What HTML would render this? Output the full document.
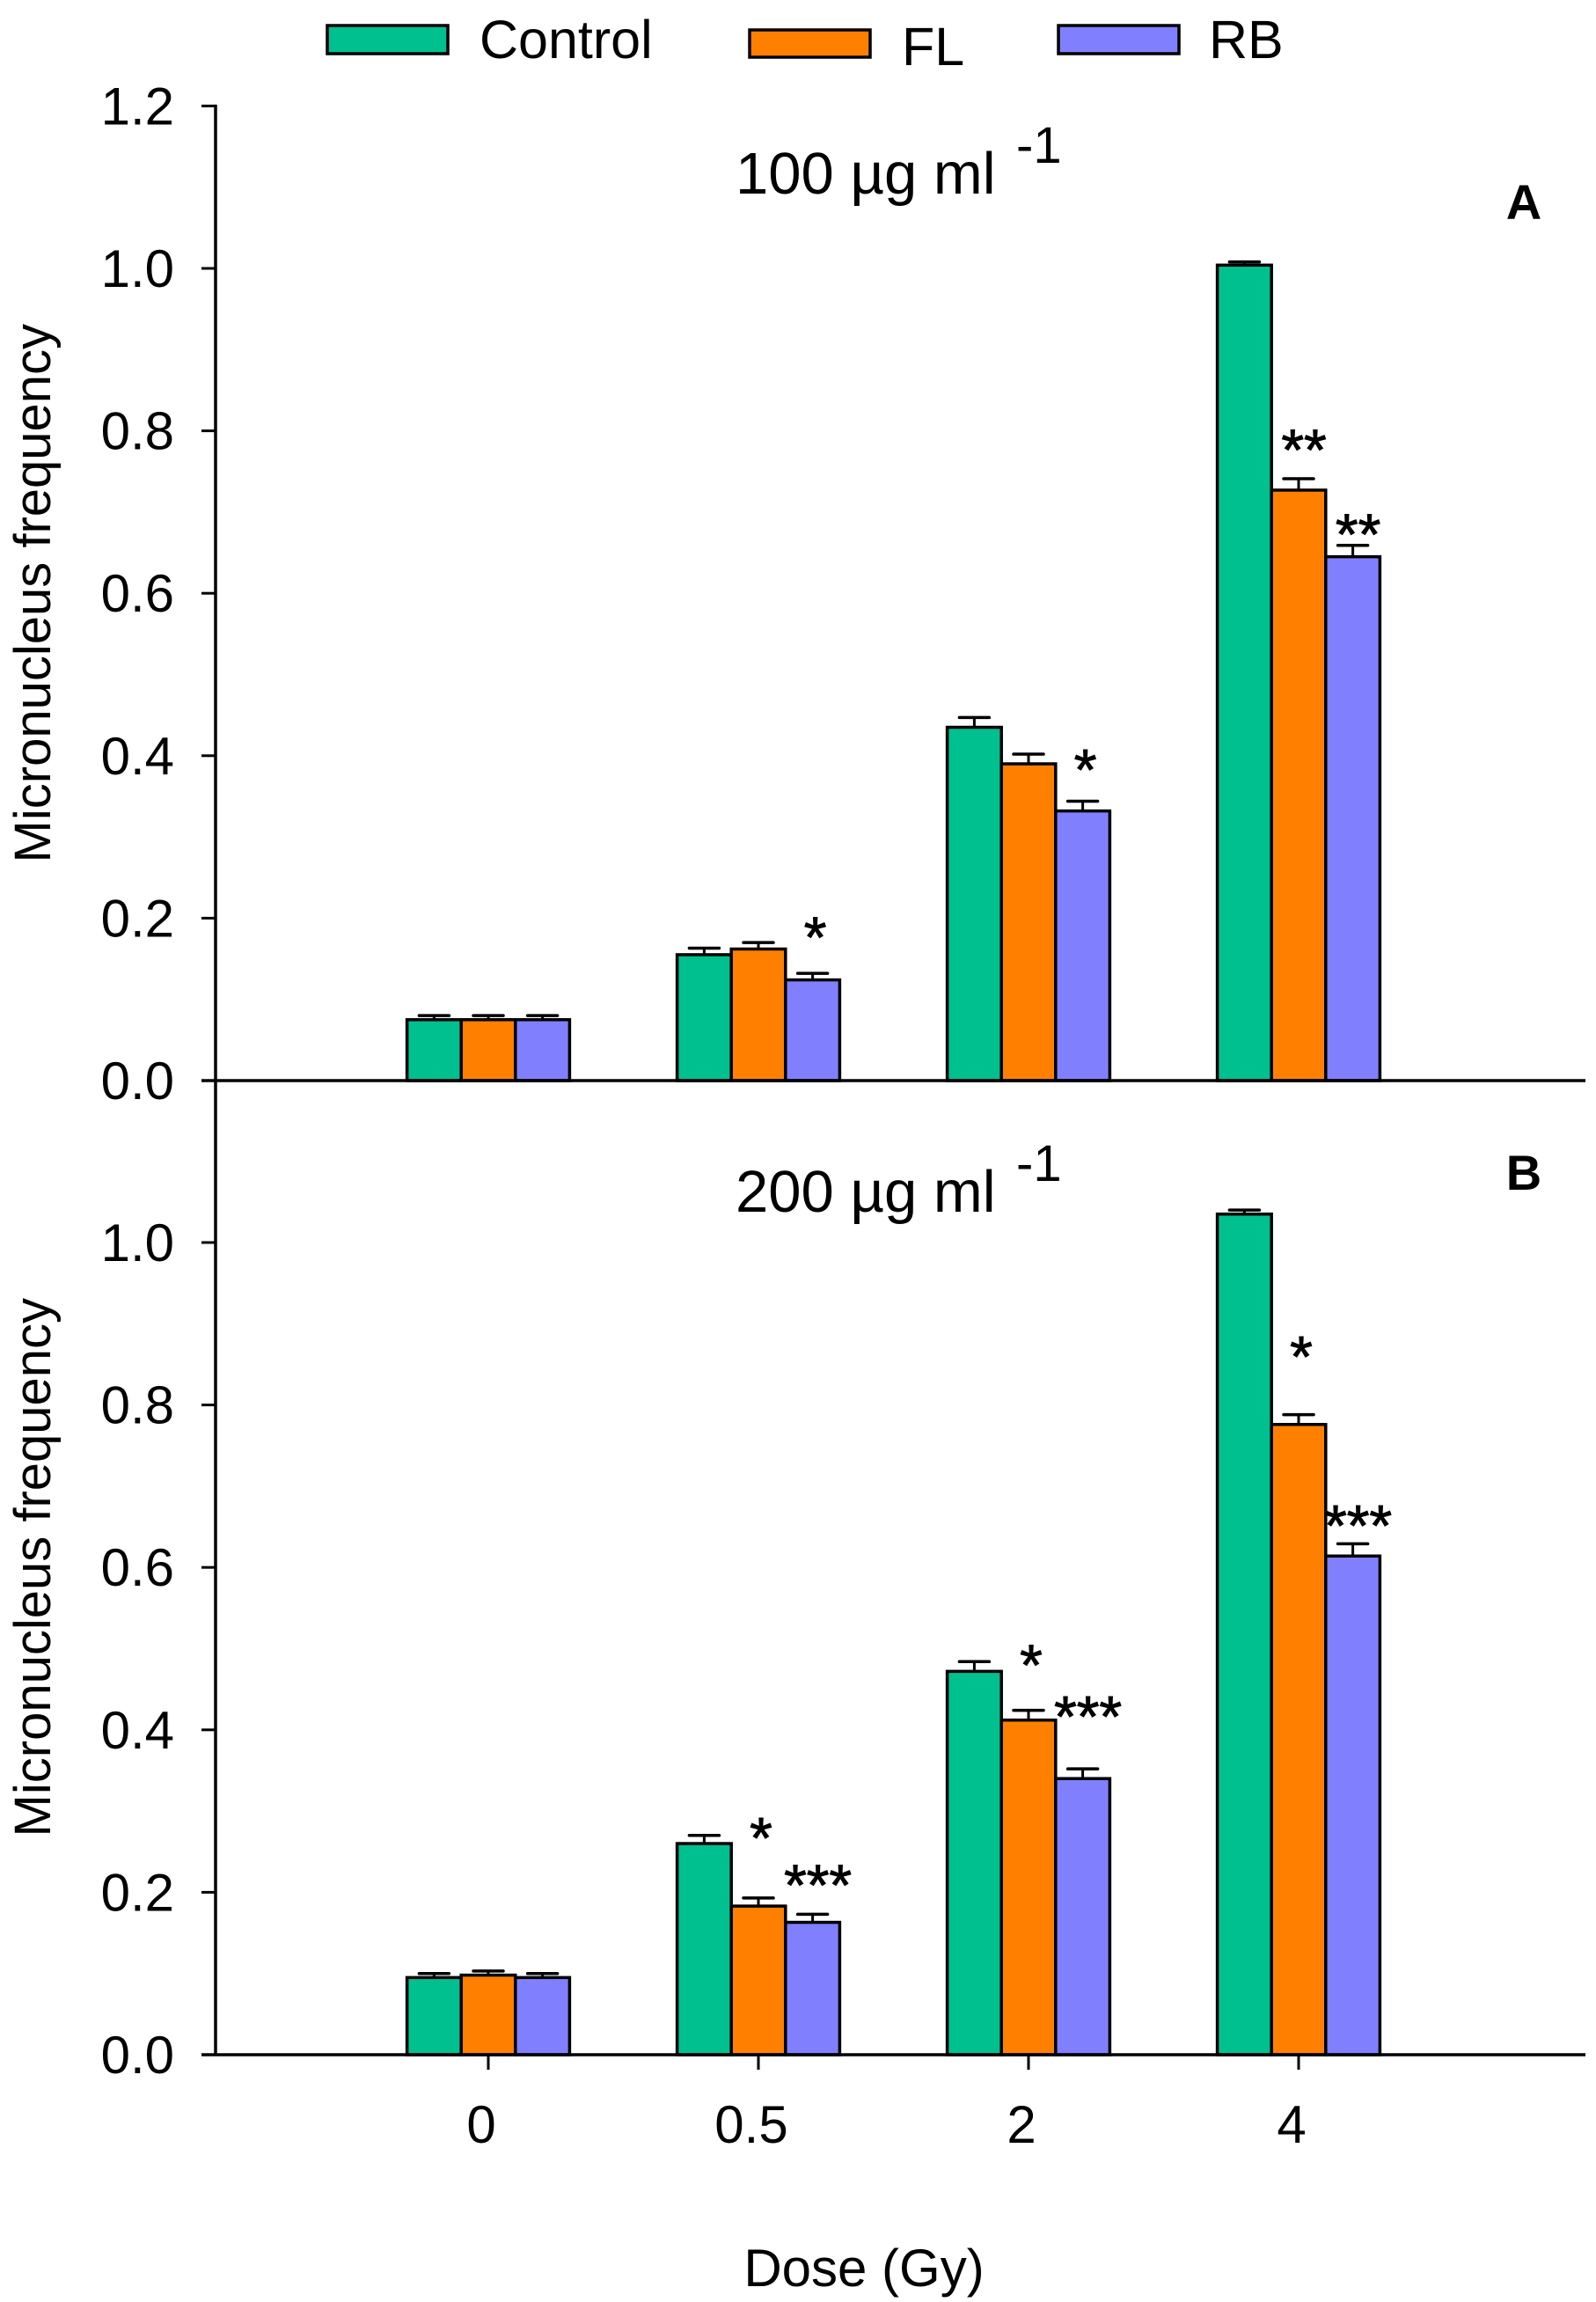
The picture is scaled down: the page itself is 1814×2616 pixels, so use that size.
<!DOCTYPE html>
<html><head><meta charset="utf-8"><style>
html,body{margin:0;padding:0;background:#fff;}
svg{display:block;font-family:"Liberation Sans",Arial,sans-serif;}
</style></head><body>
<svg id="chart" width="1814" height="2616" viewBox="0 0 1814 2616" xmlns="http://www.w3.org/2000/svg">
<g id="legend">
  <rect x="372" y="29" width="137" height="32" fill="#00C08F" stroke="#000" stroke-width="3.5"/>
  <text x="545" y="66" font-size="61">Control</text>
  <rect x="852" y="34" width="137" height="31" fill="#FF8000" stroke="#000" stroke-width="3.5"/>
  <text x="1025" y="74" font-size="61">FL</text>
  <rect x="1203" y="29" width="137" height="32" fill="#8080FF" stroke="#000" stroke-width="3.5"/>
  <text x="1374" y="66" font-size="61">RB</text>
</g>
<g id="plot"></g>
<text x="982" y="2598" font-size="60" text-anchor="middle">Dose (Gy)</text>
</svg>
<script>
const categories = ["0", "0.5", "2", "4"];
const seriesNames = ["Control", "FL", "RB"];
const yTicks = [0, 0.2, 0.4, 0.6, 0.8, 1.0, 1.2];
const yTickLabels = ["0.0", "0.2", "0.4", "0.6", "0.8", "1.0", "1.2"];
// Panel A (100 ug/ml)
const aControl = [0.075, 0.155, 0.435, 1.004];
const aFL = [0.075, 0.162, 0.390, 0.727];
const aRB = [0.075, 0.124, 0.332, 0.645];
const aControlErr = [0.005, 0.008, 0.012, 0.004];
const aFLErr = [0.005, 0.008, 0.012, 0.014];
const aRBErr = [0.005, 0.008, 0.012, 0.014];
// Panel B (200 ug/ml)
const bControl = [0.095, 0.260, 0.472, 1.035];
const bFL = [0.098, 0.183, 0.412, 0.776];
const bRB = [0.095, 0.163, 0.340, 0.614];
const bControlErr = [0.005, 0.010, 0.012, 0.005];
const bFLErr = [0.005, 0.010, 0.012, 0.012];
const bRBErr = [0.005, 0.010, 0.012, 0.015];
// significance marks: [category index, series index, text, y value of mark center]
const aSig = [[1, 2, "*", 0.192], [2, 2, "*", 0.398], [3, 1, "**", 0.792], [3, 2, "**", 0.688]];
const bSig = [[1, 1, "*", 0.282], [1, 2, "***", 0.224], [2, 1, "*", 0.495], [2, 2, "***", 0.432], [3, 1, "*", 0.875], [3, 2, "***", 0.667]];

const NS = "http://www.w3.org/2000/svg";
const plot = document.getElementById("plot");
const colors = ["#00C08F", "#FF8000", "#8080FF"];
const axisLeft = 245, axisRight = 1802;
const unit = 923;
const barW = 61.6;
function xCenter(i) { return 555 + 307 * i; }
function xBar(i, s) { return xCenter(i) - 1.5 * barW + s * barW; }
function mk(tag, attrs, parent) {
  const e = document.createElementNS(NS, tag);
  for (const k in attrs) e.setAttribute(k, attrs[k]);
  (parent || plot).appendChild(e);
  return e;
}
function panel(key, zeroY, series, errs, sig, title, letter, titleY, letterY) {
  const y = v => zeroY - v * unit;
  const g = mk("g", {});
  
  
  const ya = mk("line", {x1: axisLeft, x2: axisLeft, y1: y(1.2) - 1.5, y2: zeroY, stroke: "#000", "stroke-width": 3.5}, g);
  
  
  yTicks.forEach((t, k) => {
    if (key === "b" && k === 6) return;
    const tl = mk("line", {x1: axisLeft - 16, x2: axisLeft, y1: y(t), y2: y(t), stroke: "#000", "stroke-width": 3}, g);
    
    
    const tx = mk("text", {x: 198, y: y(t) + 21, "font-size": 60, "text-anchor": "end"}, g);
    tx.textContent = yTickLabels[k];
    
    
  });
  series.forEach((vals, s) => {
    vals.forEach((v, i) => {
      const bx = xBar(i, s);
      const top = y(v + errs[s][i]);
      const eb = mk("line", {x1: bx + barW / 2, x2: bx + barW / 2, y1: y(v), y2: top, stroke: "#000", "stroke-width": 3}, g);
      
      
      const ec = mk("line", {x1: bx + barW / 2 - 17, x2: bx + barW / 2 + 17, y1: top, y2: top, stroke: "#000", "stroke-width": 3.5, "stroke-linecap": "round"}, g);
      
      
      const r = mk("rect", {x: bx, y: y(v), width: barW, height: v * unit, fill: colors[s], stroke: "#000", "stroke-width": 3.5}, g);
      
      
    });
  });
  const xa = mk("line", {x1: axisLeft - 16, x2: axisRight, y1: zeroY, y2: zeroY, stroke: "#000", "stroke-width": 3.5}, g);
  
  
  sig.forEach(m => {
    const t = mk("text", {x: xBar(m[0], m[1]) + barW / 2 + (m[2].length > 1 ? 6 : 3), y: y(m[3]) + 37, "font-size": 66, "text-anchor": "middle", stroke: "#000", "stroke-width": 1}, g);
    t.textContent = m[2];
    
    
  });
  const tt = mk("text", {x: 836, y: titleY, "font-size": 67}, g);
  tt.textContent = title;
  
  
  const sup = mk("text", {x: 1155, y: titleY - 35, "font-size": 58}, g);
  sup.textContent = "-1";
  
  
  const lt = mk("text", {x: 1732, y: letterY, "font-size": 56, "font-weight": "bold", "text-anchor": "middle"}, g);
  lt.textContent = letter;
  
  
  const yt = mk("text", {transform: "translate(57," + (zeroY - 0.6 * unit) + ") rotate(-90)", "font-size": 58, "text-anchor": "middle"}, g);
  yt.textContent = "Micronucleus frequency";
  
  
}
panel("a", 1228, [aControl, aFL, aRB], [aControlErr, aFLErr, aRBErr], aSig, "100 \u00b5g ml", "A", 220, 249);
panel("b", 2335, [bControl, bFL, bRB], [bControlErr, bFLErr, bRBErr], bSig, "200 \u00b5g ml", "B", 1377, 1352);
categories.forEach((c, i) => {
  const tk = mk("line", {x1: xCenter(i), x2: xCenter(i), y1: 2335, y2: 2352, stroke: "#000", "stroke-width": 3});
  
  
  const tx = mk("text", {x: xCenter(i) - 8, y: 2435, "font-size": 60, "text-anchor": "middle"});
  tx.textContent = c;
  
  
});
</script>
</body></html>
